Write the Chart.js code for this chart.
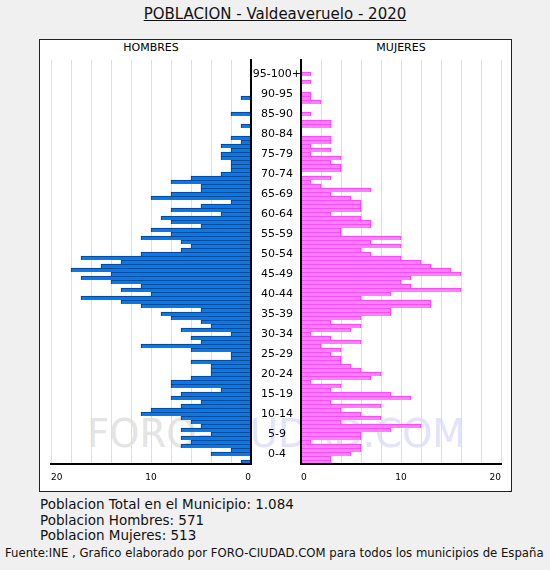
<!DOCTYPE html>
<html>
<head>
<meta charset="utf-8">
<script src="https://cdn.jsdelivr.net/npm/chart.js@4.4.1/dist/chart.umd.min.js"></script>
<style>
  body { margin: 0; background: #f0f0f0; font-family: "DejaVu Sans", Verdana, sans-serif; color: #111; }
  #page { position: relative; width: 550px; height: 570px; overflow: hidden; }
  .abs { position: absolute; white-space: nowrap; }
  #titulo { left: 0; width: 550px; top: 5px; text-align: center; font-size: 15px; line-height: 18px; text-decoration: underline; }
  #caja { left: 39px; top: 39px; width: 471px; height: 451px; background: #fff; border: 1px solid #222; }
  .cab { top: 41px; width: 120px; text-align: center; font-size: 11px; line-height: 14px; color: #000; }
  #marca { left: 87px; top: 412px; font-size: 38.5px; line-height: 44px; color: #e4e4e4; }
  #marca span { color: #e2e2fb; }
  .txt { left: 40px; font-size: 13.5px; line-height: 16px; }
  #fuente { left: 5px; top: 545px; font-size: 11.7px; line-height: 16px; }
  canvas { position: absolute; }
</style>
</head>
<body>
<div id="page">
  <div id="titulo" class="abs">POBLACION - Valdeaveruelo - 2020</div>
  <div id="caja" class="abs"></div>
  <div id="marca" class="abs">FORO-<span>CIUDAD.COM</span></div>
  <div class="abs cab" style="left:91px">HOMBRES</div>
  <div class="abs cab" style="left:341px">MUJERES</div>
  <canvas id="chartHombres" width="219" height="451" style="left:40px;top:40px"></canvas>
  <canvas id="chartMujeres" width="261" height="451" style="left:250px;top:40px"></canvas>
  <div class="abs txt" style="top:496px">Poblacion Total en el Municipio: 1.084</div>
  <div class="abs txt" style="top:512px">Poblacion Hombres: 571</div>
  <div class="abs txt" style="top:527px">Poblacion Mujeres: 513</div>
  <div id="fuente" class="abs">Fuente:INE , Grafico elaborado por FORO-CIUDAD.COM para todos los municipios de España</div>
</div>
<script>
// edades 0..100 (una barra por año)
var edades = [];
for (var i = 0; i <= 100; i++) edades.push(String(i));

var grupos = ['0-4','5-9','10-14','15-19','20-24','25-29','30-34','35-39','40-44','45-49',
              '50-54','55-59','60-64','65-69','70-74','75-79','80-84','85-90','90-95','95-100+'];

var hombres = [1,0,4,2,7, 6,7,4,7,5, 6,7,11,10,7, 5,8,7,3,8,
               8,6,4,4,4, 6,2,2,6,11, 5,6,2,7,4, 5,8,9,5,11,
               13,17,10,13,11, 14,17,14,18,15, 13,17,11,7,6, 7,11,8,10,5,
               8,9,3,8,5, 2,10,8,5,5, 8,6,3,2,2, 2,3,3,2,3,
               1,2,0,0,1, 0,0,2,0,0, 0,1,0,0,0, 0,0,0,0,0, 0];

var mujeres = [3,3,5,6,6, 1,6,6,9,12, 4,8,6,4,8, 3,11,9,3,4,
               1,7,8,6,5, 4,4,3,4,2, 6,3,1,5,6, 3,6,9,9,13,
               13,6,9,16,11, 10,11,16,15,13, 12,10,7,6,10, 7,10,4,4,7,
               7,6,3,6,6, 6,5,3,7,2, 1,3,0,4,4, 3,4,1,3,1,
               3,3,0,0,3, 3,0,1,0,0, 2,1,1,0,0, 1,0,1,0,0, 0];

var xMax = 20;

var fuenteEje = { family: 'DejaVu Sans', size: 9 };

// hombres van a la izquierda: eje de -20 a 0
var ejeX = function (min, max) {
     return {
          min: min,
          max: max,
          ticks: {
               stepSize: 2,
               autoSkip: false,
               maxRotation: 0,
               align: 'inner',
               padding: 8,
               color: '#000',
               font: fuenteEje,
               callback: function (v) { return v % 10 === 0 ? Math.abs(v) : ''; }
          },
          grid: { color: '#dedede', lineWidth: 1, drawTicks: false },
          border: { color: '#000', width: 2, z: 1 },
          afterFit: function (s) { s.height = 27; }
     };
};

var serie = function (datos, relleno, borde) {
     return {
          data: datos,
          backgroundColor: relleno,
          borderColor: borde,
          borderWidth: { top: 1, bottom: 0, left: 1, right: 1 },
          borderSkipped: false,
          barPercentage: 1,
          categoryPercentage: 1
     };
};

var opcionesBase = function (padding, ejeY, ejeXX) {
     return {
          indexAxis: 'y',
          responsive: false,
          animation: false,
          layout: { padding: padding },
          plugins: { legend: { display: false }, tooltip: { enabled: false }, title: { display: false } },
          scales: { x: ejeXX, y: ejeY }
     };
};

// el eje x pide 8px a cada lado, por eso el ancho 8 aqui
var ejeYHombres = {
     position: 'right',
     reverse: true,
     ticks: { display: false },
     grid: { display: false, drawTicks: false },
     border: { color: '#000', width: 2, z: 1 },
     afterFit: function (s) { s.width = 8; }
};

var ejeYMujeres = {
     position: 'left',
     reverse: true,
     ticks: {
          autoSkip: false,
          crossAlign: 'center',
          padding: 0,
          color: '#000',
          font: { family: 'DejaVu Sans', size: 11 },
          callback: function (v, idx) { return idx % 5 === 2 ? grupos[(idx - 2) / 5] : ''; }
     },
     grid: { display: false, drawTicks: false },
     border: { color: '#000', width: 2, z: 1 },
     afterFit: function (s) { s.width = 51; }
};

window.onload = function () {
     var hombresNeg = hombres.map(function (v) { return -v; });

     var ctx1 = document.getElementById('chartHombres').getContext('2d');
     new Chart(ctx1, {
          type: 'bar',
          data: { labels: edades, datasets: [serie(hombresNeg, '#0a78e6', '#053c80')] },
          options: opcionesBase({ left: 11, right: 0, top: 20, bottom: 0 }, ejeYHombres, ejeX(-xMax, 0))
     });

     var ctx2 = document.getElementById('chartMujeres').getContext('2d');
     new Chart(ctx2, {
          type: 'bar',
          data: { labels: edades, datasets: [serie(mujeres, '#ff80ff', '#f43cf4')] },
          options: opcionesBase({ left: 0, right: 10, top: 20, bottom: 0 }, ejeYMujeres, ejeX(0, xMax))
     });
};
</script>
</body>
</html>
